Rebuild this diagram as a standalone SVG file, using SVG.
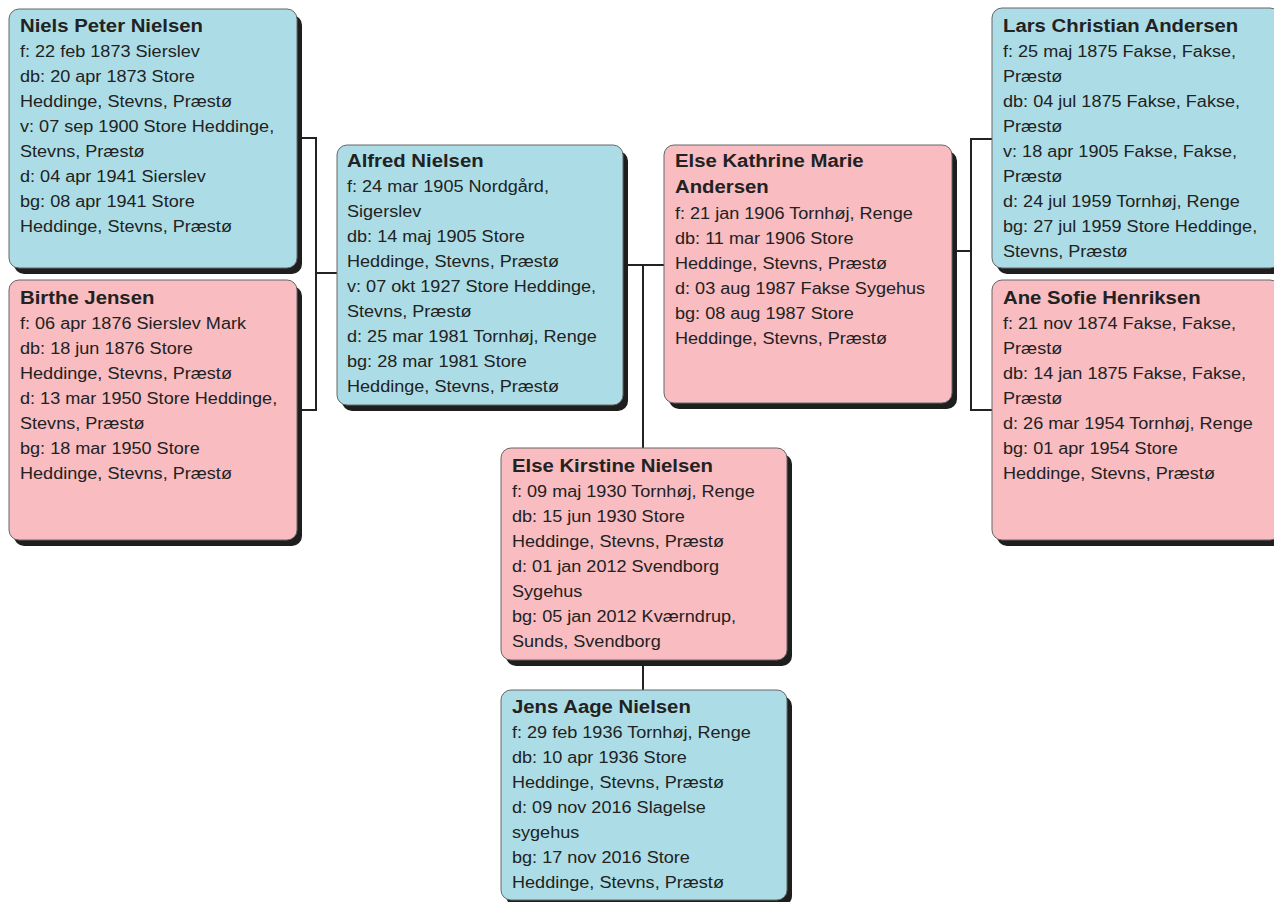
<svg xmlns="http://www.w3.org/2000/svg" width="1274" height="902" viewBox="0 0 1274 902">
<style>
.sh{fill:#1e1e1e}
.m{fill:#acdde6;stroke:#666;stroke-width:1}
.f{fill:#f8bcc1;stroke:#666;stroke-width:1}
text{font-family:"Liberation Sans",Arial,sans-serif;fill:#222;font-size:16px}
.t{font-weight:bold;font-size:18px}
.c{fill:none;stroke:#222;stroke-width:2}
</style>
<rect width="1274" height="902" fill="#fff"/>
<g id="connectors">
<path class="c" d="M297 138H316V410H297M316 273H337"/>
<path class="c" d="M623 265H664M643 265V448M643 660V690"/>
<path class="c" d="M952 251H971M992 139H971V410H992"/>
</g>
<g id="niels">
<rect class="sh" x="14" y="15" width="288" height="259" rx="10"/>
<rect class="m" x="9" y="9" width="288" height="259" rx="10"/>
<g transform="translate(20 0) scale(1.13 1)">
<text x="0" y="32" class="t">Niels Peter Nielsen</text>
<text x="0" y="57">f: 22 feb 1873 Sierslev</text>
<text x="0" y="82">db: 20 apr 1873 Store</text>
<text x="0" y="107">Heddinge, Stevns, Præstø</text>
<text x="0" y="132">v: 07 sep 1900 Store Heddinge,</text>
<text x="0" y="157">Stevns, Præstø</text>
<text x="0" y="182">d: 04 apr 1941 Sierslev</text>
<text x="0" y="207">bg: 08 apr 1941 Store</text>
<text x="0" y="232">Heddinge, Stevns, Præstø</text>
</g>
</g>
<g id="birthe">
<rect class="sh" x="14" y="286" width="288" height="260" rx="10"/>
<rect class="f" x="9" y="280" width="288" height="260" rx="10"/>
<g transform="translate(20 0) scale(1.13 1)">
<text x="0" y="304" class="t">Birthe Jensen</text>
<text x="0" y="329">f: 06 apr 1876 Sierslev Mark</text>
<text x="0" y="354">db: 18 jun 1876 Store</text>
<text x="0" y="379">Heddinge, Stevns, Præstø</text>
<text x="0" y="404">d: 13 mar 1950 Store Heddinge,</text>
<text x="0" y="429">Stevns, Præstø</text>
<text x="0" y="454">bg: 18 mar 1950 Store</text>
<text x="0" y="479">Heddinge, Stevns, Præstø</text>
</g>
</g>
<g id="alfred">
<rect class="sh" x="342" y="151" width="286" height="260" rx="10"/>
<rect class="m" x="337" y="145" width="286" height="260" rx="10"/>
<g transform="translate(347 0) scale(1.13 1)">
<text x="0" y="167" class="t">Alfred Nielsen</text>
<text x="0" y="192">f: 24 mar 1905 Nordgård,</text>
<text x="0" y="217">Sigerslev</text>
<text x="0" y="242">db: 14 maj 1905 Store</text>
<text x="0" y="267">Heddinge, Stevns, Præstø</text>
<text x="0" y="292">v: 07 okt 1927 Store Heddinge,</text>
<text x="0" y="317">Stevns, Præstø</text>
<text x="0" y="342">d: 25 mar 1981 Tornhøj, Renge</text>
<text x="0" y="367">bg: 28 mar 1981 Store</text>
<text x="0" y="392">Heddinge, Stevns, Præstø</text>
</g>
</g>
<g id="elsekathrine">
<rect class="sh" x="669" y="151" width="288" height="258" rx="10"/>
<rect class="f" x="664" y="145" width="288" height="258" rx="10"/>
<g transform="translate(675 0) scale(1.13 1)">
<text x="0" y="167" class="t">Else Kathrine Marie</text>
<text x="0" y="193" class="t">Andersen</text>
<text x="0" y="219">f: 21 jan 1906 Tornhøj, Renge</text>
<text x="0" y="244">db: 11 mar 1906 Store</text>
<text x="0" y="269">Heddinge, Stevns, Præstø</text>
<text x="0" y="294">d: 03 aug 1987 Fakse Sygehus</text>
<text x="0" y="319">bg: 08 aug 1987 Store</text>
<text x="0" y="344">Heddinge, Stevns, Præstø</text>
</g>
</g>
<g id="lars">
<rect class="sh" x="997" y="14" width="288" height="260" rx="10"/>
<rect class="m" x="992" y="8" width="288" height="260" rx="10"/>
<g transform="translate(1003 0) scale(1.13 1)">
<text x="0" y="32" class="t">Lars Christian Andersen</text>
<text x="0" y="57">f: 25 maj 1875 Fakse, Fakse,</text>
<text x="0" y="82">Præstø</text>
<text x="0" y="107">db: 04 jul 1875 Fakse, Fakse,</text>
<text x="0" y="132">Præstø</text>
<text x="0" y="157">v: 18 apr 1905 Fakse, Fakse,</text>
<text x="0" y="182">Præstø</text>
<text x="0" y="207">d: 24 jul 1959 Tornhøj, Renge</text>
<text x="0" y="232">bg: 27 jul 1959 Store Heddinge,</text>
<text x="0" y="257">Stevns, Præstø</text>
</g>
</g>
<g id="ane">
<rect class="sh" x="997" y="286" width="288" height="260" rx="10"/>
<rect class="f" x="992" y="280" width="288" height="260" rx="10"/>
<g transform="translate(1003 0) scale(1.13 1)">
<text x="0" y="304" class="t">Ane Sofie Henriksen</text>
<text x="0" y="329">f: 21 nov 1874 Fakse, Fakse,</text>
<text x="0" y="354">Præstø</text>
<text x="0" y="379">db: 14 jan 1875 Fakse, Fakse,</text>
<text x="0" y="404">Præstø</text>
<text x="0" y="429">d: 26 mar 1954 Tornhøj, Renge</text>
<text x="0" y="454">bg: 01 apr 1954 Store</text>
<text x="0" y="479">Heddinge, Stevns, Præstø</text>
</g>
</g>
<g id="elsekirstine">
<rect class="sh" x="506" y="454" width="286" height="212" rx="10"/>
<rect class="f" x="501" y="448" width="286" height="212" rx="10"/>
<g transform="translate(512 0) scale(1.13 1)">
<text x="0" y="472" class="t">Else Kirstine Nielsen</text>
<text x="0" y="497">f: 09 maj 1930 Tornhøj, Renge</text>
<text x="0" y="522">db: 15 jun 1930 Store</text>
<text x="0" y="547">Heddinge, Stevns, Præstø</text>
<text x="0" y="572">d: 01 jan 2012 Svendborg</text>
<text x="0" y="597">Sygehus</text>
<text x="0" y="622">bg: 05 jan 2012 Kværndrup,</text>
<text x="0" y="647">Sunds, Svendborg</text>
</g>
</g>
<g id="jens">
<rect class="sh" x="506" y="696" width="286" height="210" rx="10"/>
<rect class="m" x="501" y="690" width="286" height="210" rx="10"/>
<g transform="translate(512 0) scale(1.13 1)">
<text x="0" y="713" class="t">Jens Aage Nielsen</text>
<text x="0" y="738">f: 29 feb 1936 Tornhøj, Renge</text>
<text x="0" y="763">db: 10 apr 1936 Store</text>
<text x="0" y="788">Heddinge, Stevns, Præstø</text>
<text x="0" y="813">d: 09 nov 2016 Slagelse</text>
<text x="0" y="838">sygehus</text>
<text x="0" y="863">bg: 17 nov 2016 Store</text>
<text x="0" y="888">Heddinge, Stevns, Præstø</text>
</g>
</g>
</svg>
